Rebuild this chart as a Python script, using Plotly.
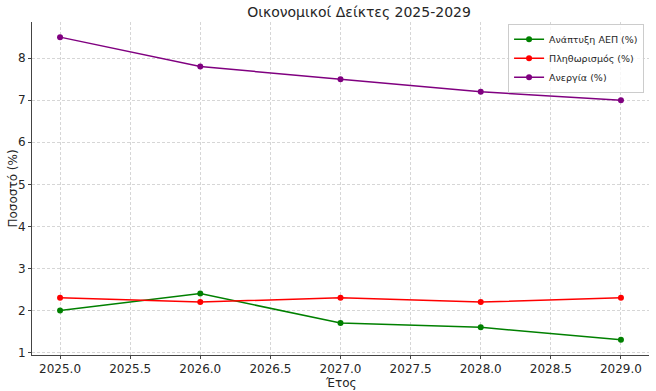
import plotly.graph_objects as go

years = [2025, 2026, 2027, 2028, 2029]
gdp = [2.0, 2.4, 1.7, 1.6, 1.3]
inflation = [2.3, 2.2, 2.3, 2.2, 2.3]
unemployment = [8.5, 7.8, 7.5, 7.2, 7.0]
names = ["Ανάπτυξη ΑΕΠ (%)", "Πληθωρισμός (%)", "Ανεργία (%)"]
colors = ["green", "red", "purple"]
x_ticks = [2025.0, 2025.5, 2026.0, 2026.5, 2027.0, 2027.5, 2028.0, 2028.5, 2029.0]
y_ticks = [1, 2, 3, 4, 5, 6, 7, 8]

fig = go.Figure()
for vals, name, col in zip([gdp, inflation, unemployment], names, colors):
    fig.add_trace(go.Scatter(x=years, y=vals, name=name, mode="lines+markers",
                             line=dict(color=col, width=1.5),
                             marker=dict(color=col, size=6)))

fig.update_layout(
    width=656, height=391,
    margin=dict(l=32, r=7, t=22, b=36),
    paper_bgcolor="white", plot_bgcolor="white",
    font=dict(family="DejaVu Sans", size=12, color="#262626"),
    title=dict(text="Οικονομικοί Δείκτες 2025-2029", x=0.53, xref="paper",
               y=1 - 12 / 391, yref="container", yanchor="middle",
               font=dict(size=14, color="#262626")),
    xaxis=dict(range=[2024.8, 2029.2], tickvals=x_ticks,
               ticktext=[f"{v:.1f}" for v in x_ticks],
               showgrid=True, gridcolor="#d6d6d6", griddash="3px,2px", gridwidth=1,
               showline=True, linecolor="#444444", linewidth=1,
               ticks="outside", ticklen=3, tickcolor="#444444",
               zeroline=False, automargin=False),
    yaxis=dict(range=[0.94, 8.86], tickvals=y_ticks,
               showgrid=True, gridcolor="#d6d6d6", griddash="3px,2px", gridwidth=1,
               showline=True, linecolor="#444444", linewidth=1,
               ticks="outside", ticklen=3, tickcolor="#444444",
               zeroline=False, automargin=False),
    legend=dict(x=0.992, y=0.995, xanchor="right", yanchor="top",
                bgcolor="rgba(255,255,255,0.8)", bordercolor="#cccccc", borderwidth=1,
                font=dict(size=9.5), tracegroupgap=0, itemwidth=30),
    showlegend=True,
    annotations=[
        dict(text="Έτος", xref="paper", yref="paper", x=0.5, y=0, yshift=-28,
             xanchor="center", yanchor="middle", showarrow=False, font=dict(size=12)),
        dict(text="Ποσοστό (%)", xref="paper", yref="paper", x=0, y=0.5, xshift=-20,
             xanchor="center", yanchor="middle", textangle=-90, showarrow=False,
             font=dict(size=12)),
    ],
)

fig.write_html("out.html")
